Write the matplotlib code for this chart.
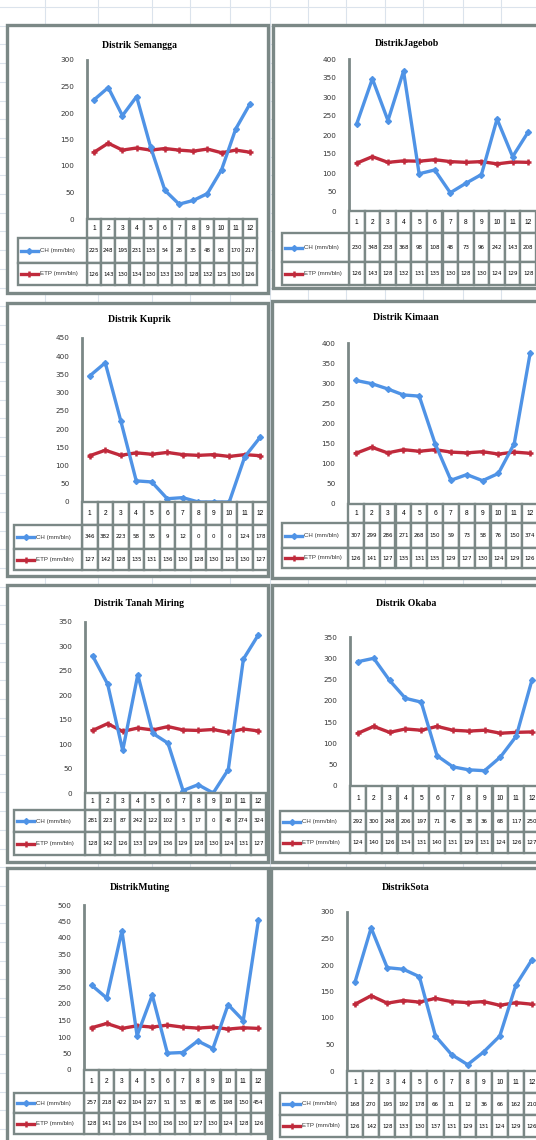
import numpy as np
import matplotlib
matplotlib.use("Agg")
import matplotlib.pyplot as plt
from matplotlib.patches import Rectangle

# data
months = [1, 2, 3, 4, 5, 6, 7, 8, 9, 10, 11, 12]
series_names = ["CH (mm/bln)", "ETP (mm/bln)"]

titles = ["Distrik Semangga", "DistrikJagebob", "Distrik Kuprik", "Distrik Kimaan",
          "Distrik Tanah Miring", "Distrik Okaba", "DistrikMuting", "DistrikSota"]

ch_semangga = [225, 248, 195, 231, 135, 54, 28, 35, 48, 93, 170, 217]
etp_semangga = [126, 143, 130, 134, 130, 133, 130, 128, 132, 125, 130, 126]
ch_jagebob = [230, 348, 238, 368, 98, 108, 48, 73, 96, 242, 143, 208]
etp_jagebob = [126, 143, 128, 132, 131, 135, 130, 128, 130, 124, 129, 128]
ch_kuprik = [346, 382, 223, 58, 55, 9, 12, 0, 0, 0, 124, 178]
etp_kuprik = [127, 142, 128, 135, 131, 136, 130, 128, 130, 125, 130, 127]
ch_kimaan = [307, 299, 286, 271, 268, 150, 59, 73, 58, 76, 150, 374]
etp_kimaan = [126, 141, 127, 135, 131, 135, 129, 127, 130, 124, 129, 126]
ch_tanah = [281, 223, 87, 242, 122, 102, 5, 17, 0, 48, 274, 324]
etp_tanah = [128, 142, 126, 133, 129, 136, 129, 128, 130, 124, 131, 127]
ch_okaba = [292, 300, 248, 206, 197, 71, 45, 38, 36, 68, 117, 250]
etp_okaba = [124, 140, 126, 134, 131, 140, 131, 129, 131, 124, 126, 127]
ch_muting = [257, 218, 422, 104, 227, 51, 53, 88, 65, 198, 150, 454]
etp_muting = [128, 141, 126, 134, 130, 136, 130, 127, 130, 124, 128, 126]
ch_sota = [168, 270, 195, 192, 178, 66, 31, 12, 36, 66, 162, 210]
etp_sota = [126, 142, 128, 133, 130, 137, 131, 129, 131, 124, 129, 126]

y_max = [300, 400, 450, 400, 350, 350, 500, 300]
ch_all = [ch_semangga, ch_jagebob, ch_kuprik, ch_kimaan, ch_tanah, ch_okaba, ch_muting, ch_sota]
etp_all = [etp_semangga, etp_jagebob, etp_kuprik, etp_kimaan, etp_tanah, etp_okaba, etp_muting, etp_sota]

# layout in pixels: box(x0,y0,x1,y1), plot left/right, y of top tick, y of 0,
# bottom of category row, CH row, ETP row, table left, title y
layout = [
    ((7, 25, 268, 293), 87, 257, 60, 219, 238, 263, 285, 18, 45),
    ((273, 25, 548, 288), 349, 536, 59, 211, 233, 262, 285, 282, 44),
    ((7, 303, 268, 576), 82, 268, 338, 502, 525, 549, 570, 14, 320),
    ((272, 301, 548, 578), 348, 538, 343, 504, 523, 548, 568, 282, 318),
    ((7, 585, 268, 862), 85, 266, 622, 793, 810, 832, 855, 14, 603),
    ((272, 585, 548, 862), 350, 540, 637, 786, 811, 832, 853, 280, 603),
    ((7, 868, 268, 1150), 84, 266, 905, 1070, 1093, 1113, 1134, 14, 887),
    ((271, 868, 548, 1150), 347, 540, 912, 1071, 1093, 1115, 1137, 280, 887),
]

W, H = 536, 1140
BLUE = "#4f93e6"
RED = "#c02a3c"
EDGE = "#7b8886"

fig = plt.figure(figsize=(W / 100, H / 100), dpi=100)
bg = fig.add_axes([0, 0, 1, 1])
bg.set_xlim(0, W)
bg.set_ylim(H, 0)
bg.axis("off")

# spreadsheet grid behind the charts
for gx in [45, 98, 152, 190, 230, 270, 308, 346, 385, 423, 463, 501]:
    bg.axvline(gx, color="#dbe3ec", lw=0.8, zorder=0)
for gy in np.arange(7, H, 18.7):
    bg.axhline(gy, color="#dbe3ec", lw=0.8, zorder=0)

for k in range(8):
    (bx0, by0, bx1, by1), pl, pr, ytop, y0, catb, chb, etpb, tl, ty = layout[k]
    bg.add_patch(Rectangle((bx0, by0), bx1 - bx0, by1 - by0, facecolor="white",
                           edgecolor=EDGE, lw=2.4, zorder=1))
    bg.text((bx0 + min(bx1, W)) / 2 + 2, ty, titles[k], ha="center", va="center",
            fontsize=7, fontweight="bold", family="Liberation Serif", zorder=3)

    ax = fig.add_axes([pl / W, 1 - y0 / H, (pr - pl) / W, (y0 - ytop) / H])
    ax.set_facecolor("none")
    ax.plot(months, etp_all[k], color=RED, lw=2.4, marker="+", ms=4.5, mew=1.8, zorder=3)
    ax.plot(months, ch_all[k], color=BLUE, lw=2.4, marker="D", ms=3, zorder=4)
    ax.set_xlim(0.5, 12.5)
    ax.set_ylim(0, y_max[k])
    ax.set_yticks(np.arange(0, y_max[k] + 1, 50))
    ax.set_xticks([])
    for s in ["top", "right", "bottom"]:
        ax.spines[s].set_visible(False)
    ax.spines["left"].set_color(EDGE)
    ax.spines["left"].set_linewidth(2)
    ax.tick_params(axis="y", length=0, pad=9, labelsize=5.2, labelcolor="#333333")
    for lab in ax.get_yticklabels():
        lab.set_family("Liberation Sans Narrow")

    # data table under the chart
    cw = (pr - pl) / 12.0
    xl = 0.5 + (tl - pl) / cw
    tab = fig.add_axes([tl / W, 1 - etpb / H, (pr - tl) / W, (etpb - y0) / H])
    tab.set_xlim(xl, 12.5)
    tab.set_ylim(etpb, y0)
    tab.axis("off")
    for i, m in enumerate(months):
        tab.add_patch(Rectangle((m - 0.5, y0), 1, catb - y0, facecolor="white",
                                edgecolor=EDGE, lw=1.7, clip_on=False))
        tab.text(m, (y0 + catb) / 2, str(m), ha="center", va="center", fontsize=4.8,
                 family="Liberation Sans")
        for yy0, yy1, vals in [(catb, chb, ch_all[k]), (chb, etpb, etp_all[k])]:
            tab.add_patch(Rectangle((m - 0.5, yy0), 1, yy1 - yy0, facecolor="white",
                                    edgecolor=EDGE, lw=1.7, clip_on=False))
            tab.text(m, (yy0 + yy1) / 2, str(vals[i]), ha="center", va="center",
                     fontsize=4.0, family="Liberation Sans Narrow")
    for j, (yy0, yy1) in enumerate([(catb, chb), (chb, etpb)]):
        tab.add_patch(Rectangle((xl, yy0), 0.5 - xl, yy1 - yy0, facecolor="white",
                                edgecolor=EDGE, lw=1.7, clip_on=False))
        ym = (yy0 + yy1) / 2
        kx = [xl + 3 / cw, xl + 20 / cw]
        if j == 0:
            tab.plot(kx, [ym, ym], color=BLUE, lw=2.4, clip_on=False)
            tab.plot([np.mean(kx)], [ym], color=BLUE, marker="D", ms=3, clip_on=False)
        else:
            tab.plot(kx, [ym, ym], color=RED, lw=2.4, clip_on=False)
            tab.plot([np.mean(kx)], [ym], color=RED, marker="+", ms=4.5, mew=1.8, clip_on=False)
        tab.text(xl + 22 / cw, ym, series_names[j], ha="left", va="center", fontsize=4.4,
                 family="Liberation Sans", color="#333333")

fig.savefig("out.png", dpi=100)
